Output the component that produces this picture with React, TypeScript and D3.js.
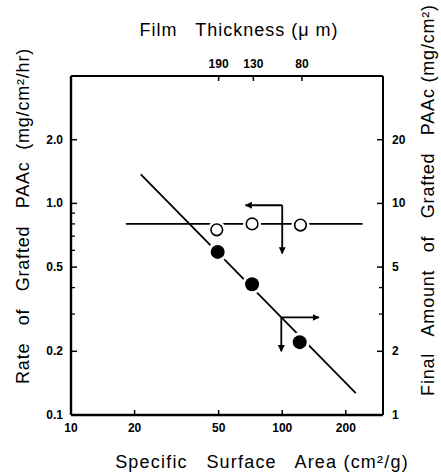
import React from "react";
import * as d3 from "d3";

// ---- data ----
const openArea = [49, 72, 122];          // specific surface area (cm2/g)
const openRate = [0.75, 0.80, 0.79];     // rate of grafted PAAc (left axis)
const filledArea = [49.5, 72, 121];
const filledAmount = [5.9, 4.15, 2.21];  // final amount (right axis)

const horizLineX = [18.2, 240];
const horizLineY = [0.8, 0.8];
const diagLineX = [21.4, 223];
const diagLineY = [13.7, 1.27];

const xTicks = [10, 20, 50, 100, 200];
const leftTicks = [0.1, 0.2, 0.5, 1.0, 2.0];
const leftTickLabels = ["0.1", "0.2", "0.5", "1.0", "2.0"];
const leftMinor = [0.3, 0.4, 0.6, 0.7, 0.8, 0.9];
const rightTicks = [1, 2, 5, 10, 20];
const rightMinor = [3, 4];
const topThickLabels = ["190", "130", "80"];
const topThickArea = [50, 73, 124];

// annotation arrows (data units)
const openArrowCorner = [100, 0.98];
const openArrowLeftX = 67;
const openArrowDownY = 0.58;
const filledArrowCorner = [99, 2.89];
const filledArrowRightX = 149;
const filledArrowDownY = 2.0;

const W = 441, H = 474;
const M = { left: 71, right: 383, top: 76, bottom: 415 };

export default function App() {
  const x = d3.scaleLog().domain([10, 300]).range([M.left, M.right]);
  const yL = d3.scaleLog().domain([0.1, 4]).range([M.bottom, M.top]);
  const yR = d3.scaleLog().domain([1, 40]).range([M.bottom, M.top]);
  const font = "'Liberation Sans', Arial, sans-serif";
  const line = d3.line<[number, number]>();

  const hPts: [number, number][] = horizLineX.map((v, i) => [x(v), yL(horizLineY[i])]);
  const dPts: [number, number][] = diagLineX.map((v, i) => [x(v), yR(diagLineY[i])]);

  const oc = [x(openArrowCorner[0]), yL(openArrowCorner[1])];
  const fc = [x(filledArrowCorner[0]), yR(filledArrowCorner[1])];

  return (
    <svg width={W} height={H} style={{ position: "absolute", left: 0, top: 0, background: "#fff" }}
      fontFamily={font}>
      <defs>
        <marker id="ah" viewBox="0 0 10 10" refX="9" refY="5" markerWidth="7" markerHeight="7"
          markerUnits="userSpaceOnUse" orient="auto">
          <path d="M0,0 L10,5 L0,10 z" fill="#000" />
        </marker>
      </defs>
      <rect width={W} height={H} fill="#fff" />

      {/* lines */}
      <path d={line(hPts) || ""} stroke="#000" strokeWidth={1.8} fill="none" />
      <path d={line(dPts) || ""} stroke="#000" strokeWidth={1.8} fill="none" />

      {/* arrows */}
      <g stroke="#000" strokeWidth={1.8} fill="none">
        <line x1={oc[0]} y1={oc[1]} x2={x(openArrowLeftX)} y2={oc[1]} markerEnd="url(#ah)" />
        <line x1={oc[0]} y1={oc[1]} x2={oc[0]} y2={yL(openArrowDownY)} markerEnd="url(#ah)" />
        <line x1={fc[0]} y1={fc[1]} x2={x(filledArrowRightX)} y2={fc[1]} markerEnd="url(#ah)" />
        <line x1={fc[0]} y1={fc[1]} x2={fc[0]} y2={yR(filledArrowDownY)} markerEnd="url(#ah)" />
      </g>

      {/* markers with white halo to break lines */}
      {openArea.map((a, i) => (
        <g key={"o" + i}>
          <circle cx={x(a)} cy={yL(openRate[i])} r={9} fill="#fff" />
          <circle cx={x(a)} cy={yL(openRate[i])} r={5.8} fill="#fff" stroke="#000" strokeWidth={1.6} />
        </g>
      ))}
      {filledArea.map((a, i) => (
        <g key={"f" + i}>
          <circle cx={x(a)} cy={yR(filledAmount[i])} r={10} fill="#fff" />
          <circle cx={x(a)} cy={yR(filledAmount[i])} r={7} fill="#000" />
        </g>
      ))}

      {/* frame */}
      <g stroke="#000" fill="none">
        <line x1={M.left} y1={M.top} x2={M.left} y2={M.bottom} strokeWidth={2.4} />
        <line x1={M.left} y1={M.bottom} x2={M.right} y2={M.bottom} strokeWidth={2.4} />
        <line x1={M.left} y1={M.top} x2={M.right} y2={M.top} strokeWidth={2} />
        <line x1={M.right} y1={M.top} x2={M.right} y2={M.bottom} strokeWidth={2} />
      </g>

      {/* bottom ticks */}
      {xTicks.map((t) => (
        <g key={"xb" + t}>
          {t !== 10 && <line x1={x(t)} x2={x(t)} y1={M.bottom} y2={M.bottom - 5} stroke="#000" strokeWidth={1.5} />}
          <text x={x(t)} y={M.bottom + 17} textAnchor="middle" fontSize={12} fontWeight="bold">{t}</text>
        </g>
      ))}
      {/* top ticks */}
      {topThickArea.map((a, i) => (
        <g key={"xt" + i}>
          <line x1={x(a)} x2={x(a)} y1={M.top} y2={M.top + 5} stroke="#000" strokeWidth={1.5} />
          <text x={x(a)} y={M.top - 8} textAnchor="middle" fontSize={12} fontWeight="bold">{topThickLabels[i]}</text>
        </g>
      ))}
      {/* left ticks */}
      {leftTicks.map((t, i) => (
        <g key={"yl" + t}>
          {i > 0 && <line x1={M.left} x2={M.left + 6} y1={yL(t)} y2={yL(t)} stroke="#000" strokeWidth={1.5} />}
          <text x={M.left - 8} y={yL(t) + 4} textAnchor="end" fontSize={12} fontWeight="bold">{leftTickLabels[i]}</text>
        </g>
      ))}
      {leftMinor.map((t) => (
        <line key={"ylm" + t} x1={M.left} x2={M.left + 4} y1={yL(t)} y2={yL(t)} stroke="#000" strokeWidth={1.3} />
      ))}
      {/* right ticks */}
      {rightTicks.map((t, i) => (
        <g key={"yr" + t}>
          {i > 0 && <line x1={M.right} x2={M.right - 6} y1={yR(t)} y2={yR(t)} stroke="#000" strokeWidth={1.5} />}
          <text x={M.right + 9} y={yR(t) + 4} textAnchor="start" fontSize={12} fontWeight="bold">{t}</text>
        </g>
      ))}
      {rightMinor.map((t) => (
        <line key={"yrm" + t} x1={M.right} x2={M.right - 4} y1={yR(t)} y2={yR(t)} stroke="#000" strokeWidth={1.3} />
      ))}

      {/* axis titles */}
      <text x={239} y={36} textAnchor="middle" fontSize={18} style={{ whiteSpace: "pre" }} letterSpacing={1}>
        {"Film   Thickness (\u03bc m)"}
      </text>
      <text x={262} y={468} textAnchor="middle" fontSize={18} style={{ whiteSpace: "pre" }} letterSpacing={1.2}>
        {"Specific   Surface   Area (cm\u00b2/g)"}
      </text>
      <text transform={`translate(29,216) rotate(-90)`} textAnchor="middle" fontSize={18}
        style={{ whiteSpace: "pre" }} letterSpacing={0.8}>
        {"Rate   of   Grafted   PAAc  (mg/cm\u00b2/hr)"}
      </text>
      <text transform={`translate(434,200) rotate(-90)`} textAnchor="middle" fontSize={18}
        style={{ whiteSpace: "pre" }} letterSpacing={0.8}>
        {"Final   Amount   of   Grafted   PAAc (mg/cm\u00b2)"}
      </text>
    </svg>
  );
}
